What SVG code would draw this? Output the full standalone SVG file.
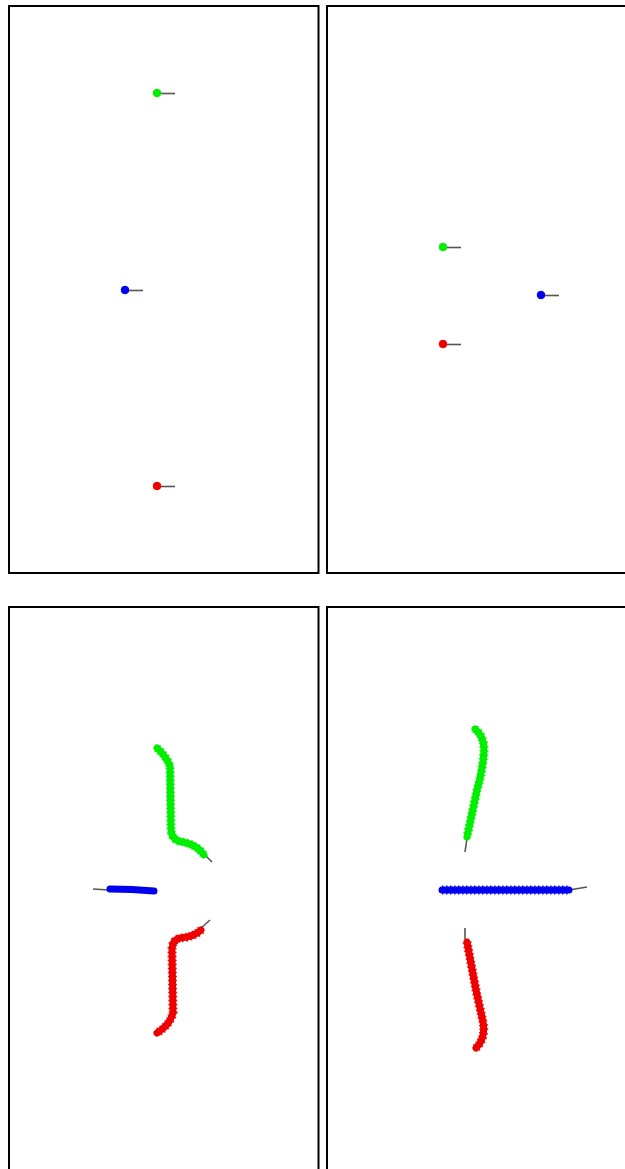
<svg xmlns="http://www.w3.org/2000/svg" width="625" height="1169" viewBox="0 0 625 1169">
  <style>
    .panel { fill: #ffffff; stroke: #000000; stroke-width: 2; }
    .dot { stroke-width: 1; }
    .heading { stroke: #555555; stroke-width: 1.6; fill: none; stroke-linecap: butt; }
    .trail { fill: none; stroke-width: 7; stroke-linecap: round; stroke-linejoin: round; }
    .rough { fill: none; stroke-width: 9; stroke-dasharray: 1.5 2.5; stroke-linejoin: round; opacity: 0.9; }
    .g { fill: #00ee00; stroke: #00ee00; }
    .b { fill: #0000ee; stroke: #0000ee; }
    .r { fill: #ee0000; stroke: #ee0000; }
    .trail.g, .rough.g { fill: none; }
    .trail.b, .rough.b { fill: none; }
    .trail.r, .rough.r { fill: none; }
  </style>
  <rect width="625" height="1169" fill="#ffffff"/>

  <!-- frames -->
  <g id="frames">
    <rect class="panel" x="9" y="6" width="309.5" height="567"/>
    <rect class="panel" x="327" y="6" width="310" height="567"/>
    <rect class="panel" x="9" y="607" width="309.5" height="580"/>
    <rect class="panel" x="327" y="607" width="310" height="580"/>
  </g>

  <!-- heading indicators -->
  <g id="connectors">
    <line class="heading" x1="157" y1="93.5" x2="175" y2="93.5"/>
    <line class="heading" x1="125" y1="290.5" x2="143" y2="290.5"/>
    <line class="heading" x1="157" y1="486.5" x2="175" y2="486.5"/>
    <line class="heading" x1="443" y1="247.5" x2="461" y2="247.5"/>
    <line class="heading" x1="541" y1="295.5" x2="559" y2="295.5"/>
    <line class="heading" x1="443" y1="344.5" x2="461" y2="344.5"/>
    <line class="heading" x1="203" y1="853" x2="212" y2="862"/>
    <line class="heading" x1="109" y1="890" x2="93" y2="889"/>
    <line class="heading" x1="200" y1="929" x2="210" y2="920"/>
    <line class="heading" x1="467" y1="838" x2="465" y2="852"/>
    <line class="heading" x1="569" y1="890" x2="587" y2="887"/>
    <line class="heading" x1="465" y1="928" x2="465" y2="939"/>
  </g>

  <!-- start positions -->
  <g id="start-green-a"><circle class="dot g" cx="157" cy="93" r="3.8"/></g>
  <g id="start-blue-a"><circle class="dot b" cx="125" cy="290" r="3.8"/></g>
  <g id="start-red-a"><circle class="dot r" cx="157" cy="486" r="3.8"/></g>
  <g id="start-green-b"><circle class="dot g" cx="443" cy="247" r="3.8"/></g>
  <g id="start-blue-b"><circle class="dot b" cx="541" cy="295" r="3.8"/></g>
  <g id="start-red-b"><circle class="dot r" cx="443" cy="344" r="3.8"/></g>

  <!-- trajectories -->
  <g id="trail-green-a">
    <path class="trail g" d="M157,748 Q166,756 170,766 L171,830 Q172,841 183,842 Q197,845 204,855"/>
    <path class="rough g" d="M157,748 Q166,756 170,766 L171,830 Q172,841 183,842 Q197,845 204,855"/>
  </g>
  <g id="trail-blue-a">
    <path class="trail b" d="M110,889 L132,889.5 L154,891"/>
  </g>
  <g id="trail-red-a">
    <path class="trail r" d="M201,930 Q194,937 180,938 Q172,940 172,950 L173,1012 Q171,1024 157,1033"/>
    <path class="rough r" d="M201,930 Q194,937 180,938 Q172,940 172,950 L173,1012 Q171,1024 157,1033"/>
  </g>
  <g id="trail-green-b">
    <path class="trail g" d="M475,729 Q484,736 484,750 Q483,770 477,790 L467,837"/>
    <path class="rough g" d="M475,729 Q484,736 484,750 Q483,770 477,790 L467,837"/>
  </g>
  <g id="trail-blue-b">
    <path class="trail b" d="M442,890 L569,890"/>
    <path class="rough b" d="M442,890 L569,890"/>
  </g>
  <g id="trail-red-b">
    <path class="trail r" d="M467,942 L476,990 L483,1022 Q486,1038 476,1048"/>
    <path class="rough r" d="M467,942 L476,990 L483,1022 Q486,1038 476,1048"/>
  </g>
</svg>
